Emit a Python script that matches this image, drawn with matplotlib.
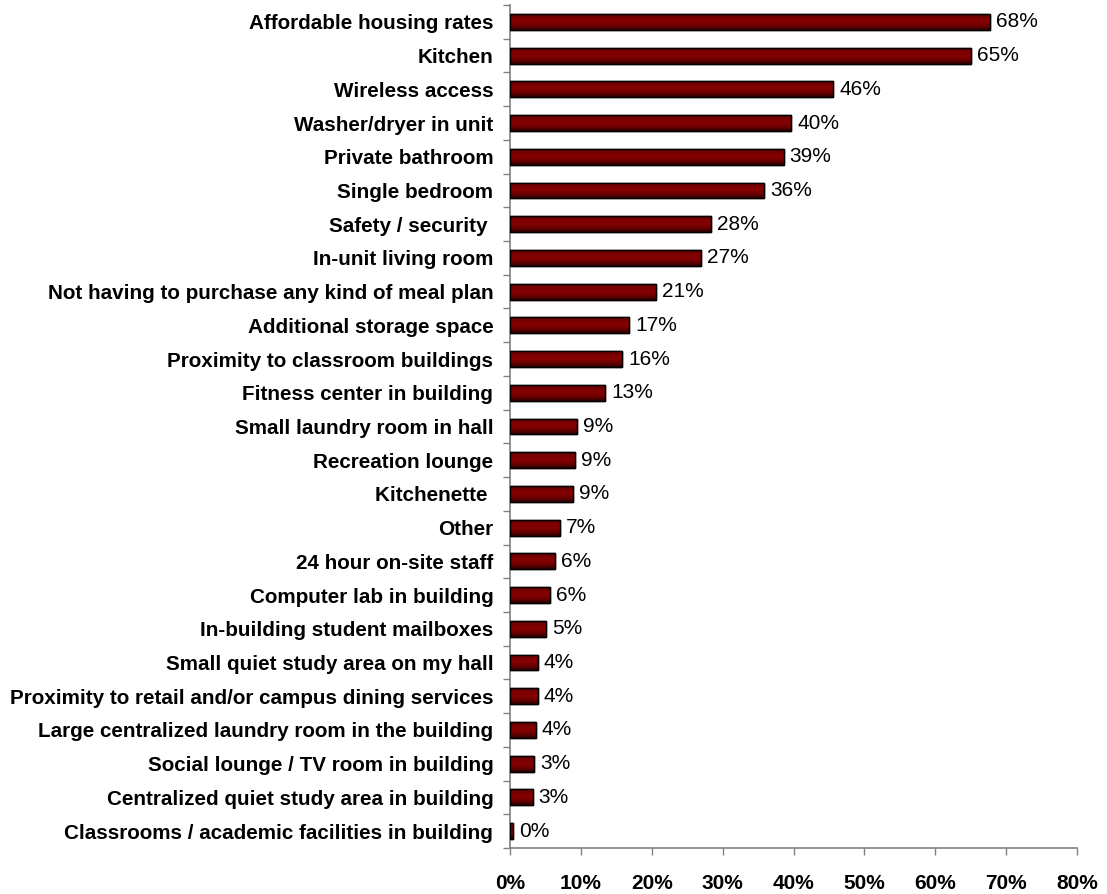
import matplotlib
matplotlib.use("Agg")
import matplotlib.pyplot as plt
import numpy as np
from matplotlib.colors import LinearSegmentedColormap
from matplotlib.ticker import FixedLocator, PercentFormatter

categories = [
    "Affordable housing rates",
    "Kitchen",
    "Wireless access",
    "Washer/dryer in unit",
    "Private bathroom",
    "Single bedroom",
    "Safety / security ",
    "In-unit living room",
    "Not having to purchase any kind of meal plan",
    "Additional storage space",
    "Proximity to classroom buildings",
    "Fitness center in building",
    "Small laundry room in hall",
    "Recreation lounge",
    "Kitchenette ",
    "Other",
    "24 hour on-site staff",
    "Computer lab in building",
    "In-building student mailboxes",
    "Small quiet study area on my hall",
    "Proximity to retail and/or campus dining services",
    "Large centralized laundry room in the building",
    "Social lounge / TV room in building",
    "Centralized quiet study area in building",
    "Classrooms / academic facilities in building",
]
values = [67.7, 65.1, 45.6, 39.7, 38.6, 35.9, 28.4, 27.0, 20.6, 16.8,
          15.8, 13.4, 9.4, 9.2, 8.9, 7.1, 6.4, 5.7, 5.1, 3.9,
          3.9, 3.6, 3.45, 3.2, 0.4]
x_ticks = [0, 10, 20, 30, 40, 50, 60, 70, 80]

plt.rcParams["font.family"] = ["Liberation Sans", "DejaVu Sans"]

fig = plt.figure(figsize=(11.07, 8.94), dpi=100)
ax = fig.add_axes([510 / 1107, 1 - 848 / 894, (1077 - 510) / 1107, (848 - 5) / 894])

n = len(categories)
ypos = list(range(n))
bar_h = 0.47
bars = ax.barh(ypos, values, height=bar_h, color="#7a0000", edgecolor="black",
               linewidth=1.0, zorder=3)

# cylinder-like shading across each bar's thickness
shade = LinearSegmentedColormap.from_list(
    "shade", ["#5c0000", "#7c0000", "#850000", "#6a0000", "#2a0000"])
grad = np.linspace(0, 1, 64).reshape(-1, 1)
for rect, y, v in zip(bars, ypos, values):
    im = ax.imshow(grad, cmap=shade, aspect="auto", interpolation="bicubic",
                   extent=[0, v, y + bar_h / 2, y - bar_h / 2], zorder=3.5)
    im.set_clip_path(rect)
    edge = plt.Rectangle((0, y - bar_h / 2), v, bar_h, fill=False,
                         edgecolor="black", linewidth=1.0, zorder=4)
    ax.add_patch(edge)

for y, v in zip(ypos, values):
    ax.text(v + 0.85, y, f"{v:.0f}%", va="center", ha="left",
            fontsize=15, color="black", zorder=5)

ax.set_xlim(0, 80)
ax.set_ylim(n - 0.5, -0.5)

ax.set_yticks(ypos)
ax.set_yticklabels(categories, fontsize=14.9, fontweight="bold")
ax.tick_params(axis="y", which="major", length=0, pad=12)
ax.yaxis.set_minor_locator(FixedLocator([i - 0.5 for i in range(n + 1)]))
ax.tick_params(axis="y", which="minor", length=5, width=1, color="#808080")

ax.set_xticks(x_ticks)
ax.xaxis.set_major_formatter(PercentFormatter(decimals=0))
for lbl in ax.get_xticklabels():
    lbl.set_fontweight("bold")
    lbl.set_fontsize(15)
ax.tick_params(axis="x", which="major", length=5, width=1, color="#808080", pad=14)

for side in ("top", "right"):
    ax.spines[side].set_visible(False)
for side in ("left", "bottom"):
    ax.spines[side].set_color("#808080")
    ax.spines[side].set_linewidth(1.2)

fig.savefig("out.png", dpi=100)
